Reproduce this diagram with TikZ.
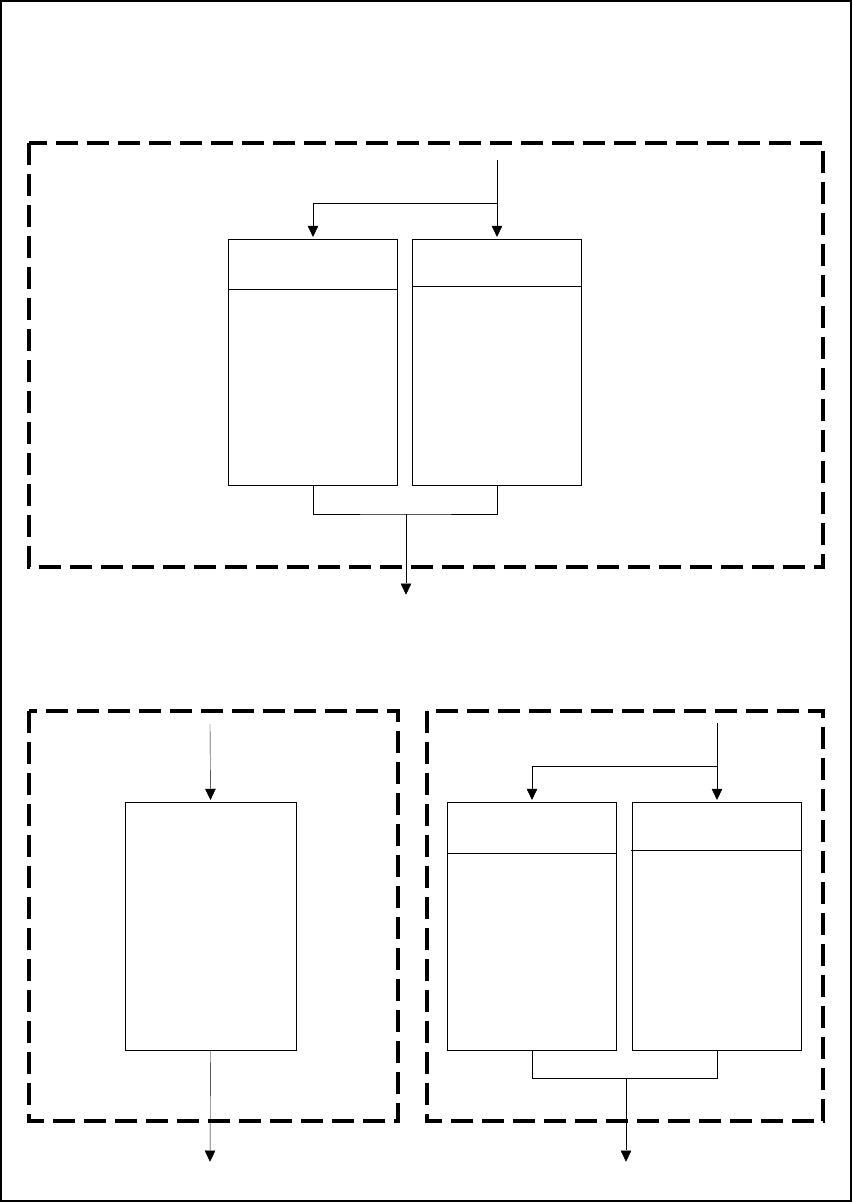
\documentclass[tikz,border=0pt]{standalone}
\usetikzlibrary{
  arrows.meta,
  calc,
  positioning
}

\begin{document}
\begin{tikzpicture}[x=1pt, y=-1pt]

\tikzset{
  blk/.style={
    draw,
    rectangle,
    inner sep=0pt,
    minimum width=169pt,
    minimum height=246pt
  },
  group/.style={
    draw,
    dash pattern=on 22pt off 9pt,
    line width=3.4pt
  },
  >={Triangle[length=13pt, width=12pt]},
  line width=1.5pt
}

\useasboundingbox (0,0) rectangle (852,1202);

% Outer frame
\draw[line width=1.8pt] (1,1) rectangle (851,1201);

% Dashed groups
\draw[group] (29,143) rectangle (823,567);
\draw[group] (29,711) rectangle (398,1121);
\draw[group] (427,711) rectangle (823,1121);

% Nodes top group
\node[blk] (t1) at (313,362) {};
\node[blk] (t2) at (497,362) {};

% Nodes bottom left group
\node[blk, minimum width=171pt, minimum height=248pt] (l1) at (210.5,926) {};

% Nodes bottom right group
\node[blk, minimum height=248pt] (r1) at (532,926) {};
\node[blk, minimum height=248pt] (r2) at (716.5,926) {};

% Header lines
\draw ([yshift=-51pt]t1.north west) -- ([yshift=-51pt]t1.north east);
\draw ([yshift=-48pt]t2.north west) -- ([yshift=-48pt]t2.north east);
\draw ([yshift=-52pt]r1.north west) -- ([yshift=-52pt]r1.north east);
\draw ([yshift=-49pt]r2.north west) -- ([yshift=-49pt]r2.north east);

% Coordinates
\coordinate (tin)  at (497,160);
\coordinate (tsp)  at (497,203);
\coordinate (tjn)  at (406,514);
\coordinate (tout) at (406,596);
\coordinate (lin)  at (210,724);
\coordinate (lout) at (210,1163);
\coordinate (rin)  at (717,723);
\coordinate (rsp)  at (717,766);
\coordinate (rjn)  at (626,1078);
\coordinate (rout) at (626,1163);

% Arrows top group
\draw[->] (tin) -- (t2.north);
\draw[->] (tsp) -| (t1.north);
\draw (t1.south) |- (tjn) -| (t2.south);
\draw[->] (tjn) -- (tout);

% Arrows bottom left group
\draw[->] (lin) -- (l1.north);
\draw[->] (l1.south) -- (lout);

% Arrows bottom right group
\draw[->] (rin) -- (rin |- r2.north);
\draw[->] (rsp) -| (r1.north);
\draw (r1.south) |- (rjn) -| (rin |- r2.south);
\draw[->] (rjn) -- (rout);

\end{tikzpicture}
\end{document}
